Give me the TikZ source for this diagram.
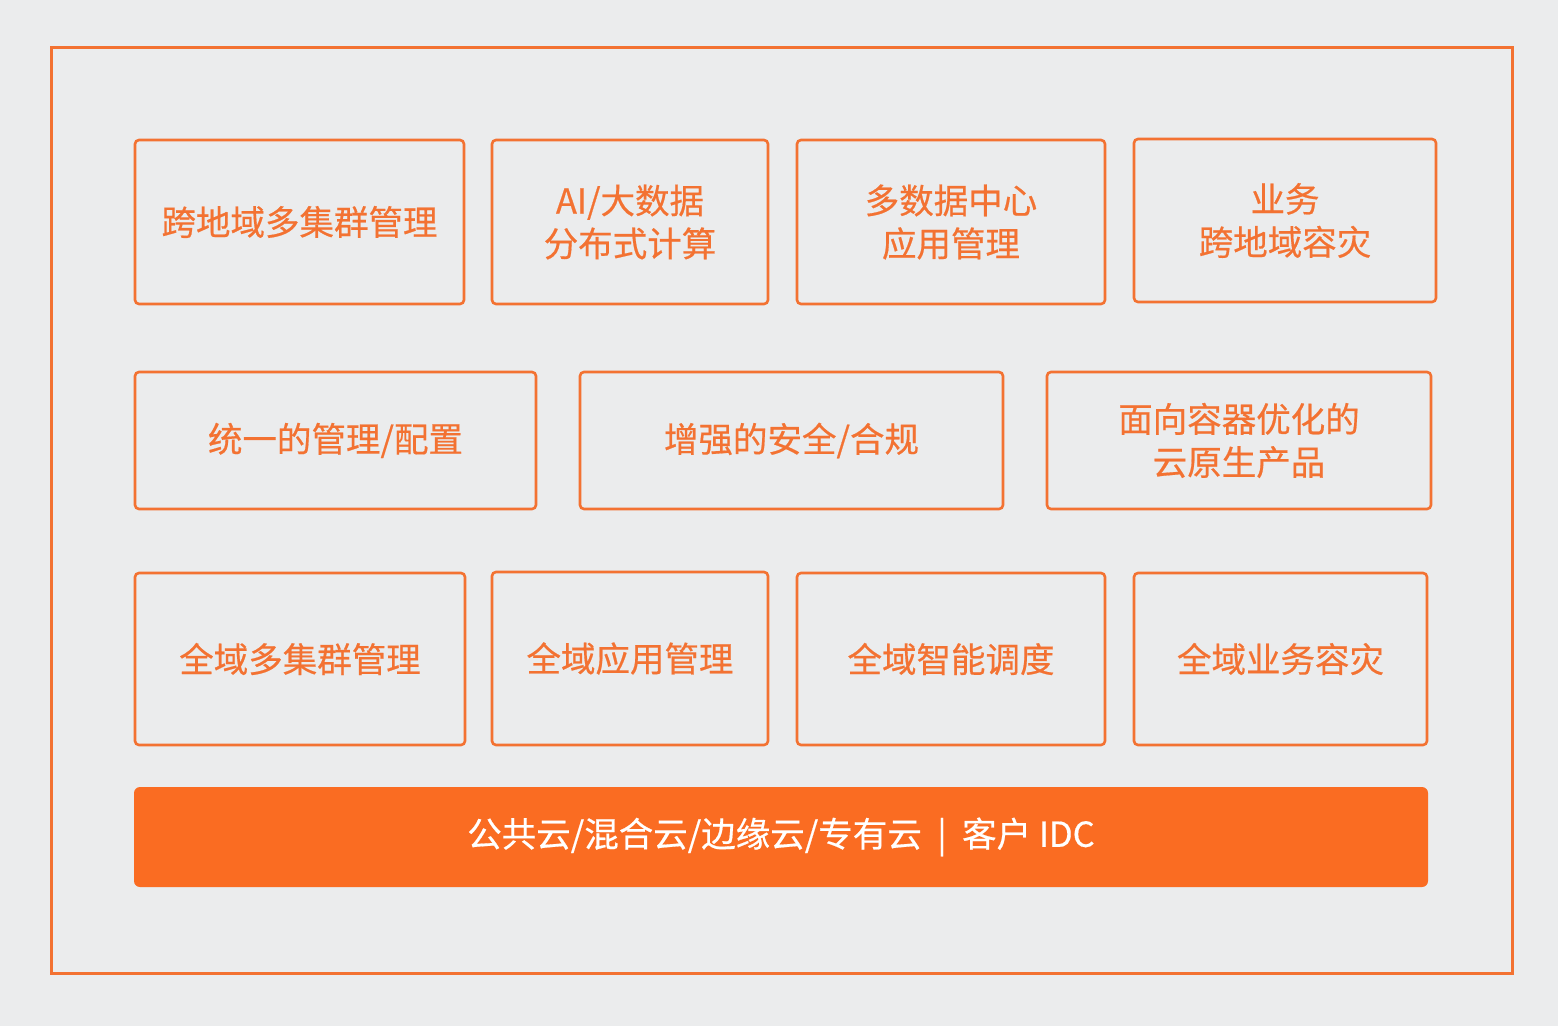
\documentclass[tikz,border=0pt]{standalone}
\usepackage{fontspec}
\newfontfamily\cjk[RawFeature={embolden=0.5}]{Noto Sans CJK SC}
\definecolor{bg}{HTML}{EBECED}
\definecolor{org}{HTML}{F37232}
\definecolor{bar}{HTML}{FA6C22}
\begin{document}
\begin{tikzpicture}[x=1pt,y=-1pt,
  box/.style={draw=org,line width=2.6pt,rounded corners=4pt,text=org,align=center,
    font=\cjk\fontsize{34.5}{43}\selectfont},
]
\fill[bg] (0,0) rectangle (1558,1026);
\useasboundingbox (0,0) rectangle (1558,1026);
\node[draw=org,line width=2.6pt,minimum width=1461pt,minimum height=926pt,anchor=north west] (outer) at (50,46) {};
% row 1
\node[box,minimum width=329pt,minimum height=164pt] (a1) at (299.5,222) {跨地域多集群管理};
\node[box,minimum width=276pt,minimum height=164pt] (a2) at (630,222) {AI/大数据\\分布式计算};
\node[box,minimum width=308pt,minimum height=164pt] (a3) at (951,222) {多数据中心\\应用管理};
\node[box,minimum width=302pt,minimum height=163pt] (a4) at (1285,220.5) {业务\\跨地域容灾};
% row 2
\node[box,minimum width=401pt,minimum height=137pt] (b1) at (335.5,440.5) {统一的管理/配置};
\node[box,minimum width=423pt,minimum height=137pt] (b2) at (791.5,440.5) {增强的安全/合规};
\node[box,minimum width=384pt,minimum height=137pt] (b3) at (1239,440.5) {面向容器优化的\\云原生产品};
% row 3
\node[box,minimum width=330pt,minimum height=172pt] (c1) at (300,659) {全域多集群管理};
\node[box,minimum width=276pt,minimum height=173pt] (c2) at (630,658.5) {全域应用管理};
\node[box,minimum width=308pt,minimum height=172pt] (c3) at (951,659) {全域智能调度};
\node[box,minimum width=293pt,minimum height=172pt] (c4) at (1280.5,659) {全域业务容灾};
% bar
\node[fill=bar,rounded corners=6pt,minimum width=1294pt,minimum height=100pt,text=white,
  font=\cjk\fontsize{34.5}{43}\selectfont] (bar) at (781,837) {公共云/混合云/边缘云/专有云\hspace{0.45em}|\hspace{0.45em}客户 IDC};
\end{tikzpicture}
\end{document}
